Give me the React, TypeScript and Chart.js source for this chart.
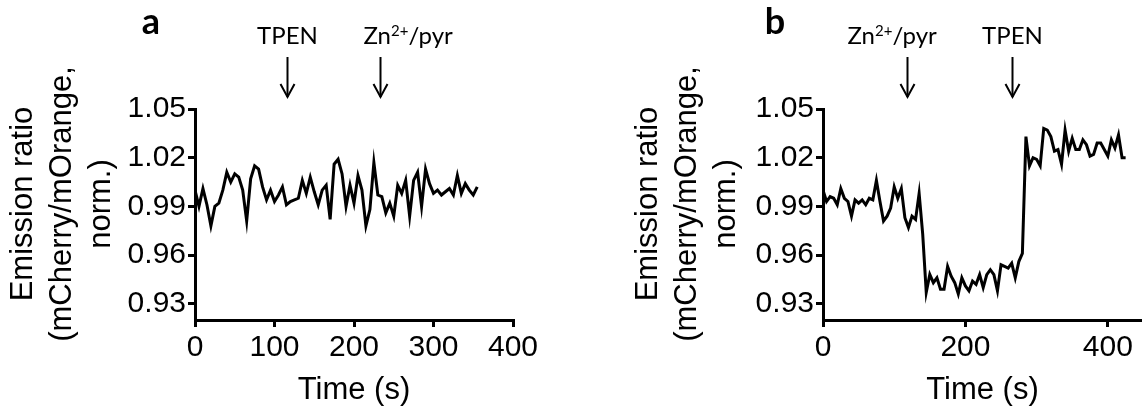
import React, { useEffect, useRef } from 'react';
import { Chart, registerables } from 'chart.js';

Chart.register(...registerables);

// ---------- data ----------
const timeA = [
  0, 5, 10, 15, 20, 25, 30, 35, 40, 45, 50, 55, 60, 65, 70, 75, 80, 85, 90, 95,
  100, 105, 110, 115, 120, 125, 130, 135, 140, 145, 150, 155, 160, 165, 170, 175,
  180, 185, 190, 195, 200, 205, 210, 215, 220, 225, 230, 235, 240, 245, 250, 255,
  260, 265, 270, 275, 280, 285, 290, 295, 300, 305, 310, 315, 320, 325, 330, 335,
  340, 345, 350, 355,
];
const ratioA = [
  1.000, 0.990, 1.001, 0.991, 0.978, 0.990, 0.992, 1.000, 1.011, 1.005,
  1.010, 1.008, 1.000, 0.981, 1.007, 1.015, 1.013, 1.002, 0.994, 1.000,
  0.993, 0.997, 1.002, 0.991, 0.993, 0.994, 0.995, 1.006, 0.998, 1.008,
  0.999, 0.991, 1.000, 1.003, 0.982, 1.016, 1.019, 1.010, 0.990, 1.003,
  0.992, 1.009, 1.000, 0.978, 0.988, 1.017, 0.997, 0.996, 0.986, 0.992,
  0.984, 1.003, 0.998, 1.006, 0.984, 1.006, 1.011, 0.990, 1.013, 1.004,
  0.998, 1.000, 0.997, 0.999, 1.001, 0.997, 1.009, 0.998, 1.004, 1.000,
  0.997, 1.002,
];
const timeB = [
  0, 5, 10, 15, 20, 25, 30, 35, 40, 45, 50, 55, 60, 65, 70, 75, 80, 85, 90, 95,
  100, 105, 110, 115, 120, 125, 130, 135, 140, 145, 150, 155, 160, 165, 170, 175,
  180, 185, 190, 195, 200, 205, 210, 215, 220, 225, 230, 235, 240, 245, 250, 255,
  260, 265, 270, 275, 280, 285, 290, 295, 300, 305, 310, 315, 320, 325, 330, 335,
  340, 345, 350, 355, 360, 365, 370, 375, 380, 385, 390, 395, 400, 405, 410, 415,
  420, 425,
];
const ratioB = [
  1.000, 0.993, 0.996, 0.995, 0.991, 1.001, 0.995, 0.993, 0.984, 0.994,
  0.992, 0.994, 0.991, 0.995, 0.994, 1.006, 0.993, 0.981, 0.984, 0.989,
  1.002, 0.995, 1.001, 0.983, 0.977, 0.984, 0.982, 0.998, 0.973, 0.937,
  0.948, 0.943, 0.946, 0.939, 0.939, 0.953, 0.947, 0.943, 0.936, 0.946,
  0.941, 0.938, 0.944, 0.942, 0.948, 0.940, 0.948, 0.951, 0.948, 0.938,
  0.954, 0.953, 0.952, 0.955, 0.946, 0.956, 0.961, 1.033, 1.015, 1.020,
  1.019, 1.015, 1.038, 1.037, 1.033, 1.024, 1.025, 1.016, 1.037, 1.024,
  1.032, 1.025, 1.025, 1.031, 1.028, 1.021, 1.022, 1.029, 1.029, 1.025,
  1.021, 1.031, 1.026, 1.034, 1.020, 1.020,
];
const yTicks = [0.93, 0.96, 0.99, 1.02, 1.05];
const xTicksA = [0, 100, 200, 300, 400];
const xTicksB = [0, 200, 400];
const eventTimesA = [116, 233];
const eventLabelsA = ['TPEN', 'Zn2+/pyr'];
const eventTimesB = [118, 265];
const eventLabelsB = ['Zn2+/pyr', 'TPEN'];
const yTitle = ['Emission ratio', '(mCherry/mOrange,', 'norm.)'];
const xTitle = 'Time (s)';

const AXIS_FONT = '"Liberation Sans", Arial, sans-serif';
const ANNO_FONT = 'Lato, "Open Sans", sans-serif';

type PanelProps = {
  times: number[];
  values: number[];
  xMax: number;
  xTicks: number[];
  eventTimes: number[];
  eventLabels: string[];
  labelOffsets: (number | null)[];
  panelLabel: string;
  panelLabelX: number;
  yAxisWidth: number;
  yTitleX: number;
  rightPad: number;
  left: number;
  width: number;
};

function drawLabel(ctx: CanvasRenderingContext2D, text: string, x: number, y: number, offset: number | null) {
  const size = 24;
  const normal = `${size}px ${ANNO_FONT}`;
  const small = `${Math.round(size * 0.62)}px ${ANNO_FONT}`;
  const parts: { t: string; sup: boolean }[] = [];
  const m = text.match(/^(Zn)(2\+)(.*)$/);
  if (m) {
    parts.push({ t: m[1], sup: false }, { t: m[2], sup: true }, { t: m[3], sup: false });
  } else {
    parts.push({ t: text, sup: false });
  }
  let total = 0;
  const widths = parts.map((p) => {
    ctx.font = p.sup ? small : normal;
    const w = ctx.measureText(p.t).width;
    total += w;
    return w;
  });
  let cx = offset === null ? x - total / 2 : x + offset;
  ctx.fillStyle = '#000';
  ctx.textAlign = 'left';
  ctx.textBaseline = 'alphabetic';
  parts.forEach((p, i) => {
    ctx.font = p.sup ? small : normal;
    ctx.fillText(p.t, cx, p.sup ? y - 8 : y);
    cx += widths[i];
  });
}

function Panel(props: PanelProps) {
  const ref = useRef<HTMLCanvasElement | null>(null);
  useEffect(() => {
    if (!ref.current) return;
    const annotate = {
      id: 'annotate',
      afterDraw(chart: any) {
        const ctx = chart.ctx as CanvasRenderingContext2D;
        const xs = chart.scales.x;
        ctx.save();
        props.eventTimes.forEach((t, i) => {
          const x = Math.round(xs.getPixelForValue(t)) + 0.5;
          ctx.strokeStyle = '#000';
          ctx.lineWidth = 2;
          ctx.beginPath();
          ctx.moveTo(x, 57);
          ctx.lineTo(x, 97);
          ctx.stroke();
          ctx.beginPath();
          ctx.moveTo(x - 7, 84);
          ctx.lineTo(x, 97);
          ctx.lineTo(x + 7, 84);
          ctx.stroke();
          drawLabel(ctx, props.eventLabels[i], x, 44, props.labelOffsets[i]);
        });
        // panel letter
        ctx.font = `bold 36px ${ANNO_FONT}`;
        ctx.textAlign = 'center';
        ctx.textBaseline = 'alphabetic';
        ctx.fillStyle = '#000';
        ctx.fillText(props.panelLabel, props.panelLabelX, 34);
        // y-axis title (three rotated lines)
        ctx.font = `31px ${AXIS_FONT}`;
        ctx.textBaseline = 'middle';
        yTitle.forEach((line, i) => {
          ctx.save();
          ctx.translate(props.yTitleX + i * 39, 204);
          ctx.rotate(-Math.PI / 2);
          ctx.fillText(line, 0, 0);
          ctx.restore();
        });
        ctx.restore();
      },
    };
    const chart = new Chart(ref.current, {
      type: 'line',
      data: {
        datasets: [
          {
            data: props.times.map((t, i) => ({ x: t, y: props.values[i] })),
            borderColor: '#000',
            borderWidth: 3,
            pointRadius: 0,
            tension: 0,
            fill: false,
            borderJoinStyle: 'miter',
          },
        ],
      },
      options: {
        responsive: false,
        animation: false,
        devicePixelRatio: 1,
        layout: { padding: { top: 109, right: props.rightPad, left: 0, bottom: 0 } },
        plugins: { legend: { display: false }, tooltip: { enabled: false } },
        scales: {
          x: {
            type: 'linear',
            min: 0,
            max: props.xMax,
            afterBuildTicks: (s: any) => {
              s.ticks = props.xTicks.map((v) => ({ value: v }));
            },
            afterFit: (s: any) => {
              s.height = 92;
            },
            ticks: {
              font: { family: AXIS_FONT, size: 30 },
              color: '#000',
              padding: 3,
              maxRotation: 0,
              autoSkip: false,
              callback: (v: any) => String(v),
            },
            grid: { display: true, drawOnChartArea: false, drawTicks: true, tickLength: 7, color: '#000', lineWidth: 3 },
            border: { display: true, color: '#000', width: 3 },
            title: {
              display: true,
              text: xTitle,
              color: '#000',
              font: { family: AXIS_FONT, size: 31, lineHeight: 1.2 },
              padding: { top: 0, bottom: 3 },
            },
          },
          y: {
            type: 'linear',
            min: 0.92,
            max: 1.05,
            afterBuildTicks: (s: any) => {
              s.ticks = yTicks.map((v) => ({ value: v }));
            },
            afterFit: (s: any) => {
              s.width = props.yAxisWidth;
            },
            ticks: {
              font: { family: AXIS_FONT, size: 30 },
              color: '#000',
              padding: 2,
              autoSkip: false,
              callback: (v: any) => Number(v).toFixed(2),
            },
            grid: { display: true, drawOnChartArea: false, drawTicks: true, tickLength: 7, color: '#000', lineWidth: 3 },
            border: { display: true, color: '#000', width: 3 },
            title: { display: false },
          },
        },
      } as any,
      plugins: [annotate],
    });
    return () => chart.destroy();
  }, []);
  return (
    <canvas
      ref={ref}
      width={props.width}
      height={412}
      style={{ position: 'absolute', left: props.left, top: 0, width: props.width, height: 412 }}
    />
  );
}

export default function App() {
  return (
    <div style={{ position: 'absolute', left: 0, top: 0, width: 1142, height: 412, background: '#fff', overflow: 'hidden' }}>
      <Panel
        times={timeA}
        values={ratioA}
        xMax={400}
        xTicks={xTicksA}
        eventTimes={eventTimesA}
        eventLabels={eventLabelsA}
        labelOffsets={[null, -17]}
        panelLabel="a"
        panelLabelX={151}
        yAxisWidth={195}
        yTitleX={23}
        rightPad={58}
        left={0}
        width={571}
      />
      <Panel
        times={timeB}
        values={ratioB}
        xMax={448}
        xTicks={xTicksB}
        eventTimes={eventTimesB}
        eventLabels={eventLabelsB}
        labelOffsets={[-60, null]}
        panelLabel="b"
        panelLabelX={204}
        yAxisWidth={252}
        yTitleX={77}
        rightPad={0}
        left={571}
        width={571}
      />
    </div>
  );
}
